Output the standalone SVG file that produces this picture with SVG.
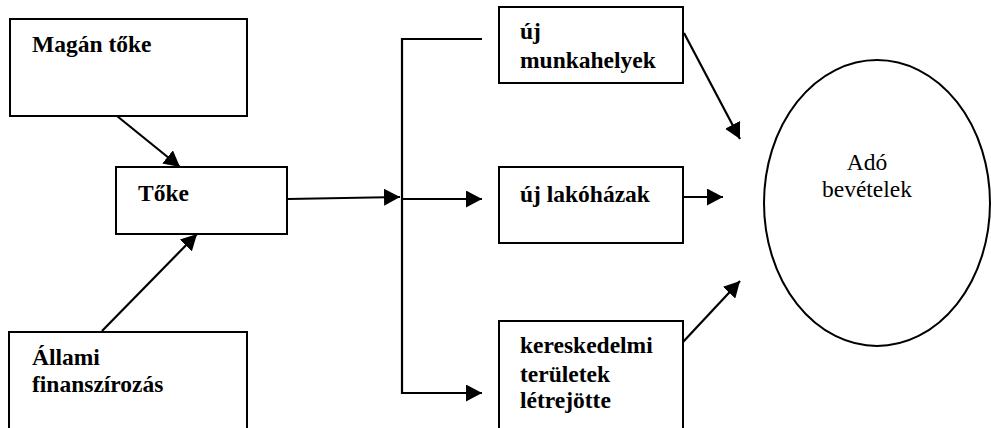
<svg xmlns="http://www.w3.org/2000/svg" width="991" height="428" viewBox="0 0 991 428">
<style>
.box{fill:#fff;stroke:#000;stroke-width:2}
text{font-family:'Liberation Serif','Times New Roman','DejaVu Serif',serif;font-size:23.5px;fill:#000}
.t{font-weight:bold}
.c{fill:none;stroke:#000;stroke-width:2.2}
</style>
<defs>
<marker id="ah" markerUnits="userSpaceOnUse" markerWidth="17" markerHeight="17" refX="16" refY="8.5" orient="auto">
<path d="M0,0 L16,8.5 L0,17 z" fill="#000"/>
</marker>
</defs>
<rect width="991" height="428" fill="#fff"/>
<g id="n-magan"><rect class="box" x="10" y="19" width="237" height="97"/><text class="t" font-family="Liberation Serif, serif" x="32" y="52">Magán tőke</text></g>
<g id="n-toke"><rect class="box" x="116" y="167" width="171" height="67"/><text class="t" font-family="Liberation Serif, serif" x="138" y="201">Tőke</text></g>
<g id="n-allami"><rect class="box" x="9" y="332" width="238" height="100"/><text class="t" font-family="Liberation Serif, serif" x="32" y="365">Állami</text><text class="t" font-family="Liberation Serif, serif" x="32" y="392">finanszírozás</text></g>
<g id="n-munka"><rect class="box" x="499" y="7" width="184" height="76"/><text class="t" font-family="Liberation Serif, serif" x="520" y="39">új</text><text class="t" font-family="Liberation Serif, serif" x="520" y="68">munkahelyek</text></g>
<g id="n-lakohaz"><rect class="box" x="499" y="167" width="184" height="76"/><text class="t" font-family="Liberation Serif, serif" x="520" y="202">új lakóházak</text></g>
<g id="n-keresk"><rect class="box" x="499" y="321" width="184" height="111"/><text class="t" font-family="Liberation Serif, serif" x="520" y="353">kereskedelmi</text><text class="t" font-family="Liberation Serif, serif" x="520" y="382">területek</text><text class="t" font-family="Liberation Serif, serif" x="520" y="408">létrejötte</text></g>
<g id="n-ado"><ellipse cx="877" cy="203" rx="113" ry="143" fill="#fff" stroke="#000" stroke-width="2"/><text font-family="Liberation Serif, serif" x="867" y="170" text-anchor="middle">Adó</text><text font-family="Liberation Serif, serif" x="867" y="197" text-anchor="middle">bevételek</text></g>
<g id="connectors">
<line class="c" x1="117" y1="116" x2="180" y2="167" marker-end="url(#ah)"/>
<line class="c" x1="102" y1="331" x2="197" y2="234" marker-end="url(#ah)"/>
<line class="c" x1="288" y1="199" x2="400" y2="197" marker-end="url(#ah)"/>
<polyline class="c" points="482,39 402,39 402,393 482,393" marker-end="url(#ah)"/>
<line class="c" x1="402" y1="199" x2="482" y2="199" marker-end="url(#ah)"/>
<line class="c" x1="684" y1="33" x2="740" y2="139" marker-end="url(#ah)"/>
<line class="c" x1="683" y1="197" x2="723" y2="197" marker-end="url(#ah)"/>
<line class="c" x1="683" y1="342" x2="740" y2="281" marker-end="url(#ah)"/>
</g>
</svg>
